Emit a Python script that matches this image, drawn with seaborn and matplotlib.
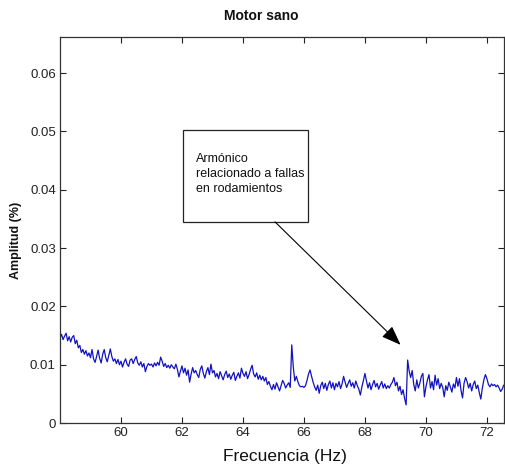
import numpy as np
import pandas as pd
import seaborn as sns
import matplotlib.pyplot as plt
from matplotlib.patches import Rectangle

# Spectrum amplitude (in thousandths of %) sampled every 0.05 Hz from 58.00 Hz
f_start = 58.0
f_step = 0.05
amp_milli = [
    # 58 Hz
    14.6, 15.2, 14.3, 14.9, 15.4, 14.1, 14.8, 13.9, 14.7, 15.0, 13.6, 14.2, 12.9, 13.3, 12.1, 12.6, 11.8, 12.4, 11.5, 12.0,
    # 59 Hz
    11.2, 12.6, 11.0, 10.4, 11.4, 12.5, 11.1, 10.3, 11.8, 12.6, 11.2, 10.5, 11.6, 12.7, 11.4, 10.6, 11.0, 10.2, 10.9, 10.0,
    # 60 Hz
    10.6, 9.6, 10.4, 11.0, 10.1, 9.7, 10.8, 11.0, 10.2, 10.9, 11.4, 10.3, 9.9, 10.5, 9.6, 10.2, 8.8, 9.7, 10.2, 9.9,
    # 61 Hz
    10.1, 9.6, 10.3, 9.8, 10.4, 9.9, 11.3, 10.6, 9.7, 10.2, 9.5, 9.9, 9.4, 10.0, 9.6, 9.3, 10.1, 9.2, 7.9, 8.9,
    # 62 Hz
    9.8, 8.6, 9.4, 8.2, 9.1, 7.0, 8.4, 9.5, 8.6, 9.0, 8.3, 7.8, 9.2, 9.8, 8.5, 7.7, 8.8, 9.5, 8.3, 10.1,
    # 63 Hz
    8.6, 9.0, 7.9, 8.5, 7.6, 8.8, 8.1, 7.4, 8.3, 8.9, 7.8, 8.4, 7.5, 8.2, 8.7, 7.3, 8.0, 8.6, 7.7, 9.4,
    # 64 Hz
    8.5, 8.0, 8.8, 7.6, 8.3, 9.2, 9.9, 8.4, 7.9, 8.6, 7.5, 8.2, 7.4, 8.0, 7.2, 7.8, 6.6, 7.1, 6.3, 5.7,
    # 65 Hz
    6.6, 5.8, 6.9, 6.2, 5.5, 6.4, 7.3, 6.8, 6.0, 6.5, 6.9, 6.1, 13.4, 9.6, 7.2, 8.0, 7.1, 6.4, 6.2, 6.3,
    # 66 Hz
    6.1, 6.4, 7.3, 8.4, 9.1, 8.0, 7.0, 6.2, 5.6, 6.5, 5.1, 6.4, 7.0, 5.9, 6.8, 5.6, 6.6, 7.2, 6.0, 6.9,
    # 67 Hz
    5.7, 6.8, 6.2, 7.1, 5.9, 6.7, 8.0, 7.0, 6.1, 6.8, 7.4, 6.3, 6.9, 6.0, 7.2, 6.4, 5.8, 4.8, 6.2, 7.3,
    # 68 Hz
    8.5, 7.2, 6.0, 6.9, 5.7, 6.6, 7.3, 6.2, 6.8, 5.8, 6.5, 7.1, 6.0, 6.7, 5.9, 6.4, 6.0, 6.6, 7.0, 7.8,
    # 69 Hz
    6.4, 7.0, 5.5, 6.3, 4.9, 5.7, 4.2, 3.1, 10.8, 8.9, 7.8, 9.0, 6.6, 5.5, 7.4, 6.0, 6.8, 8.0, 8.5, 4.5,
    # 70 Hz
    6.2, 7.4, 8.3, 6.0, 7.1, 5.7, 8.2, 6.5, 7.6, 5.9, 6.8, 6.1, 4.5, 6.4, 5.6, 7.0, 6.2, 5.3, 6.7, 6.0,
    # 71 Hz
    7.8, 6.3, 7.6, 5.6, 4.3, 6.8, 7.8, 7.1, 6.0, 6.8, 5.5, 6.6, 7.2, 5.9, 6.5, 5.2, 4.1, 6.0, 7.4, 8.3,
    # 72 Hz
    7.6, 6.6, 6.2, 6.7, 6.4, 6.6, 6.2, 6.5, 6.0, 5.4, 5.8, 6.5,
]

x_ticks = [60, 62, 64, 66, 68, 70, 72]
y_ticks = [0, 0.01, 0.02, 0.03, 0.04, 0.05, 0.06]
y_tick_labels = ["0", "0.01", "0.02", "0.03", "0.04", "0.05", "0.06"]

note_lines = ["Armónico", "relacionado a fallas", "en rodamientos"]

freq = f_start + f_step * np.arange(len(amp_milli))
amp = np.array(amp_milli) / 1000.0
df = pd.DataFrame({"Frecuencia": freq, "Amplitud": amp})

sns.set_style("ticks")
plt.rcParams["font.family"] = ["Liberation Sans", "DejaVu Sans"]

fig = plt.figure(figsize=(5.06, 4.66), dpi=100)
ax = fig.add_axes([60 / 506, 43 / 466, 444 / 506, 386 / 466])

sns.lineplot(data=df, x="Frecuencia", y="Amplitud", ax=ax,
             color="#1212c0", linewidth=0.9, legend=False)

ax.set_xlim(58.0, 72.56)
ax.set_ylim(0, 0.0662)
ax.set_xticks(x_ticks)
ax.set_xticklabels([str(t) for t in x_ticks])
ax.set_yticks(y_ticks)
ax.set_yticklabels(y_tick_labels)
ax.tick_params(direction="in", top=True, right=True, length=4, width=0.8,
               labelsize=9.5, colors="#222222", pad=3)
for s in ax.spines.values():
    s.set_linewidth(0.9)
    s.set_color("#333333")

ax.set_xlabel("")
ax.set_ylabel("")
fig.text(285 / 506, 1 - 457 / 466, "Frecuencia (Hz)", ha="center", va="center",
         fontsize=12.5, color="#111111")
fig.text(16 / 506, 1 - 240 / 466, "Amplitud (%)", ha="center", va="center",
         rotation=90, fontsize=9, fontweight="bold", color="#111111")
fig.text(261 / 506, 1 - 16 / 466, "Motor sano", ha="center", va="center",
         fontsize=10, fontweight="bold", color="#111111")

# Note box with arrow pointing to the bearing-fault harmonic
ax.add_patch(Rectangle((62.03, 0.0345), 4.10, 0.0157, fill=True,
                       facecolor="white", edgecolor="#222222", linewidth=0.9,
                       zorder=5))
for i, line in enumerate(note_lines):
    ax.text(62.45, 0.0453 - i * 0.0026, line, fontsize=9, ha="left",
            va="center", color="#111111", zorder=6)
ax.annotate("", xy=(69.17, 0.0134), xytext=(65.05, 0.0345),
            arrowprops=dict(arrowstyle="-|>,head_length=1.2,head_width=0.45",
                            color="black", linewidth=0.8, shrinkA=0, shrinkB=0),
            zorder=6)

fig.savefig("out.png", dpi=100)
